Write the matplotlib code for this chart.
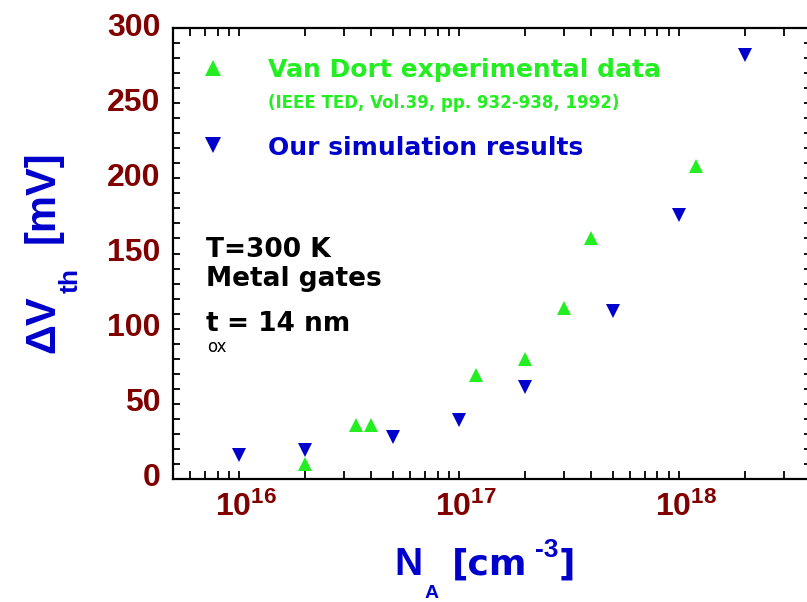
import math
import matplotlib
matplotlib.use('Agg')
import matplotlib.pyplot as plt
import matplotlib.transforms as mtransforms
from matplotlib.ticker import LogLocator, MultipleLocator, FixedLocator, NullFormatter

# Threshold-voltage shift vs. substrate doping
na_exp = [2e16, 3.4e16, 4e16, 1.2e17, 2e17, 3e17, 4e17, 1.2e18]
dvth_exp = [10, 36, 36, 69.5, 80, 114, 160.5, 208]

na_sim = [1e16, 2e16, 5e16, 1e17, 2e17, 5e17, 1e18, 2e18]
dvth_sim = [16, 19, 28, 39.5, 61, 112, 175.5, 282]

x_major = [1e16, 1e17, 1e18]
y_major = [0, 50, 100, 150, 200, 250, 300]

green = '#22EE22'
blue = '#0000CC'
darkred = '#800000'

W, H = 807, 602
fig = plt.figure(figsize=(W / 100, H / 100), dpi=100)

def fx(px):
    return px / W

def fy(py):
    return 1 - py / H

# right spine sits just past the edge of the canvas
ax = fig.add_axes([fx(173), fy(479), fx(811) - fx(173), (479 - 28) / H])

ax.plot(na_exp, dvth_exp, linestyle='none', marker='^', ms=10.5, mew=0, color=green)
ax.plot(na_sim, dvth_sim, linestyle='none', marker='v', ms=10.5, mew=0, color=blue)

ax.set_xscale('log')
ax.set_xlim(5e15, 4e18)
ax.set_ylim(0, 300)

ax.xaxis.set_major_locator(FixedLocator(x_major))
ax.xaxis.set_minor_locator(LogLocator(base=10, subs=range(2, 10)))
ax.xaxis.set_minor_formatter(NullFormatter())
ax.set_xticklabels([r'$\mathregular{10^{%d}}$' % round(math.log10(v)) for v in x_major])
ax.yaxis.set_major_locator(FixedLocator(y_major))
ax.yaxis.set_minor_locator(MultipleLocator(10))
ax.set_yticklabels([str(v) for v in y_major])

for s in ax.spines.values():
    s.set_linewidth(1.6)

ax.tick_params(which='both', direction='in', top=True, right=True, width=1.3, color='black')
ax.tick_params(axis='x', which='both', length=6)
ax.tick_params(axis='y', which='both', length=5)
ax.tick_params(axis='x', which='major', pad=9)
ax.tick_params(axis='y', which='major', pad=9)

for lab in ax.get_yticklabels():
    lab.set_fontfamily('Liberation Sans')
    lab.set_fontweight('bold')
    lab.set_fontsize(23)
    lab.set_color(darkred)
    lab.set_transform(lab.get_transform() + mtransforms.ScaledTranslation(0, 4 / 100, fig.dpi_scale_trans))

for lab in ax.get_xticklabels():
    lab.set_fontfamily(['Liberation Sans Narrow', 'Liberation Sans'])
    lab.set_fontweight('bold')
    lab.set_fontsize(23)
    lab.set_color(darkred)
    lab.set_transform(lab.get_transform() + mtransforms.ScaledTranslation(7 / 100, 0, fig.dpi_scale_trans))

# legend drawn by hand: marker keys plus coloured text
ax.plot([fx(213)], [fy(68)], marker='^', ms=11, mew=0, color=green,
        transform=fig.transFigure, clip_on=False)
ax.plot([fx(213)], [fy(145)], marker='v', ms=11, mew=0, color=blue,
        transform=fig.transFigure, clip_on=False)

bold = dict(family='DejaVu Sans', weight='bold', va='baseline', ha='left')
fig.text(fx(268), fy(77), 'Van Dort experimental data', color=green, fontsize=18, **bold)
fig.text(fx(268), fy(108), '(IEEE TED, Vol.39, pp. 932-938, 1992)', color=green, fontsize=12, **bold)
fig.text(fx(268), fy(155), 'Our simulation results', color=blue, fontsize=18, **bold)

fig.text(fx(206), fy(257), 'T=300 K', color='black', fontsize=19, **bold)
fig.text(fx(206), fy(286), 'Metal gates', color='black', fontsize=19, **bold)
fig.text(fx(206), fy(331), 't', color='black', fontsize=19, **bold)
fig.text(fx(207), fy(352), 'ox', color='black', fontsize=12, family='DejaVu Sans',
         va='baseline', ha='left')
fig.text(fx(227), fy(331), '= 14 nm', color='black', fontsize=19, **bold)

# axis titles built from pieces so the sub/superscripts sit like the original
lab = dict(weight='bold', color=blue, va='baseline', ha='left')
fig.text(fx(394), fy(575), 'N', fontsize=28, family='Liberation Sans', **lab)
fig.text(fx(425), fy(598), 'A', fontsize=14, family='Liberation Sans', **lab)
fig.text(fx(452), fy(575), '[cm', fontsize=26, family='DejaVu Sans', **lab)
fig.text(fx(535), fy(557), '-3', fontsize=19, family='Liberation Sans', **lab)
fig.text(fx(559), fy(575), ']', fontsize=26, family='DejaVu Sans', **lab)

rot = dict(rotation=90, rotation_mode='anchor', ha='left', va='baseline',
           family='Liberation Sans', weight='bold', color=blue)
fig.text(fx(54), fy(353), '\u0394V', fontsize=30, **rot)
fig.text(fx(78), fy(293), 'th', fontsize=19, **rot)
fig.text(fx(54), fy(243), '[mV]', fontsize=30, **rot)

fig.savefig('out.png', dpi=100)
